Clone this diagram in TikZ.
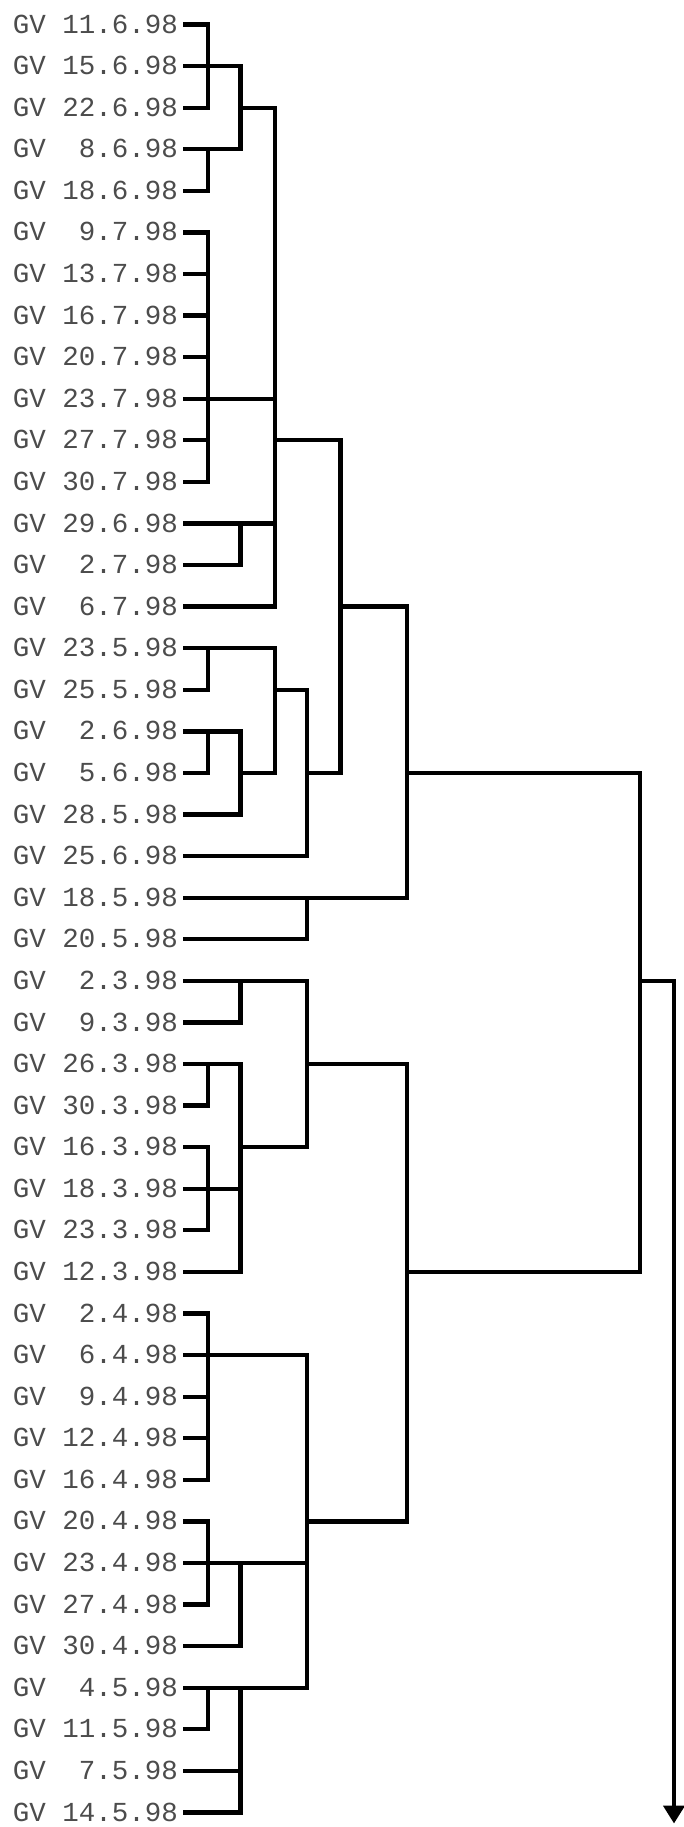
\documentclass[tikz,border=0pt]{standalone}
\usepackage{fontspec}
\newfontfamily\labfont{Liberation Mono}
\usetikzlibrary{arrows.meta}
\tikzset{
  lab/.style={font=\labfont\fontsize{27.5pt}{30pt}\selectfont, text=black!70, inner sep=0pt, anchor=base east},
  dl/.style={line width=4.3pt, line join=miter, draw=black},
}
\begin{document}
\begin{tikzpicture}[x=1pt,y=-1pt]
\useasboundingbox[fill=white] (0,0) rectangle (684,1827);
% leaves
\foreach \lab [count=\i] in {GV~11.6.98,GV~15.6.98,GV~22.6.98,GV~~8.6.98,GV~18.6.98,
  GV~~9.7.98,GV~13.7.98,GV~16.7.98,GV~20.7.98,GV~23.7.98,GV~27.7.98,GV~30.7.98,
  GV~29.6.98,GV~~2.7.98,GV~~6.7.98,GV~23.5.98,GV~25.5.98,GV~~2.6.98,GV~~5.6.98,
  GV~28.5.98,GV~25.6.98,GV~18.5.98,GV~20.5.98,GV~~2.3.98,GV~~9.3.98,GV~26.3.98,
  GV~30.3.98,GV~16.3.98,GV~18.3.98,GV~23.3.98,GV~12.3.98,GV~~2.4.98,GV~~6.4.98,
  GV~~9.4.98,GV~12.4.98,GV~16.4.98,GV~20.4.98,GV~23.4.98,GV~27.4.98,GV~30.4.98,
  GV~~4.5.98,GV~11.5.98,GV~~7.5.98,GV~14.5.98}{
  \pgfmathsetmacro\yy{24.5+(\i-1)*41.58}
  \node[lab] (n\i) at (178,\yy+8.6) {\lab};
  \coordinate (r\i) at (183,\yy);
}
% merge levels
\coordinate (c1) at (208,0);
\coordinate (c2) at (240.5,0);
\coordinate (c3) at (275,0);
\coordinate (c4) at (307,0);
\coordinate (c5) at (340.5,0);
\coordinate (c6) at (407,0);
\coordinate (c7) at (640,0);
\coordinate (c8) at (674,0);
\coordinate (tip) at (674,1823.5);
% top group
\draw[dl] (r1) -- (c1|-r1) -- (c1|-r3) -- (r3);
\draw[dl] (r2) -- (c2|-r2) -- (c2|-r4) -- (r4);
\draw[dl] (r5) -- (c1|-r5) -- (c1|-r4);
\draw[dl] (c2|-r3) -- (c3|-r3) -- (c3|-r15) -- (r15);
\draw[dl] (r6) -- (c1|-r6) -- (c1|-r12) -- (r12);
\foreach \k in {7,8,9,11} \draw[dl] (r\k) -- (c1|-r\k);
\draw[dl] (r10) -- (c3|-r10);
\draw[dl] (r13) -- (c3|-r13);
\draw[dl] (r14) -- (c2|-r14) -- (c2|-r13);
\draw[dl] (c3|-r11) -- (c5|-r11) -- (c5|-r19) -- (c4|-r19);
% second group
\draw[dl] (r16) -- (c3|-r16) -- (c3|-r19) -- (c2|-r19);
\draw[dl] (r17) -- (c1|-r17) -- (c1|-r16);
\draw[dl] (r18) -- (c2|-r18) -- (c2|-r20) -- (r20);
\draw[dl] (r19) -- (c1|-r19) -- (c1|-r18);
\draw[dl] (c3|-r17) -- (c4|-r17) -- (c4|-r21) -- (r21);
\draw[dl] (c5|-r15) -- (c6|-r15) -- (c6|-r22) -- (r22);
\draw[dl] (r23) -- (c4|-r23) -- (c4|-r22);
\draw[dl] (c6|-r19) -- (c7|-r19) -- (c7|-r31) -- (c6|-r31);
\draw[dl,-{Triangle[width=21pt,length=18pt]}] (c7|-r24) -- (c8|-r24) -- (tip);
% lower group 1
\draw[dl] (r24) -- (c4|-r24) -- (c4|-r28) -- (c2|-r28);
\draw[dl] (r25) -- (c2|-r25) -- (c2|-r24);
\draw[dl] (r26) -- (c2|-r26) -- (c2|-r31) -- (r31);
\draw[dl] (r27) -- (c1|-r27) -- (c1|-r26);
\draw[dl] (r28) -- (c1|-r28) -- (c1|-r30) -- (r30);
\draw[dl] (r29) -- (c2|-r29);
\draw[dl] (c4|-r26) -- (c6|-r26) -- (c6|-r37) -- (c4|-r37);
% lower group 2
\draw[dl] (r32) -- (c1|-r32) -- (c1|-r36) -- (r36);
\foreach \k in {34,35} \draw[dl] (r\k) -- (c1|-r\k);
\draw[dl] (r33) -- (c4|-r33) -- (c4|-r41) -- (r41);
\draw[dl] (r37) -- (c1|-r37) -- (c1|-r39) -- (r39);
\draw[dl] (r38) -- (c4|-r38);
\draw[dl] (r40) -- (c2|-r40) -- (c2|-r38);
\draw[dl] (r42) -- (c1|-r42) -- (c1|-r41);
\draw[dl] (r44) -- (c2|-r44) -- (c2|-r41);
\draw[dl] (r43) -- (c2|-r43);
\end{tikzpicture}
\end{document}
